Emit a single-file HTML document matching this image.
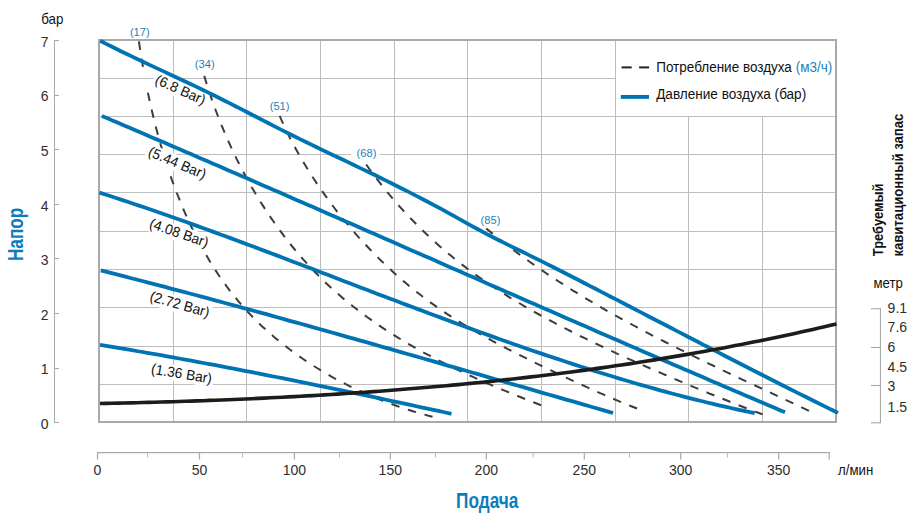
<!DOCTYPE html>
<html><head><meta charset="utf-8"><style>
html,body{margin:0;padding:0;background:#fff;width:921px;height:529px;overflow:hidden}
svg{display:block}
</style></head><body>
<svg width="921" height="529" viewBox="0 0 921 529">
<rect width="921" height="529" fill="#fff"/>
<rect x="173" y="40" width="1" height="382" fill="#bdbdbd"/>
<rect x="246" y="40" width="1" height="382" fill="#bdbdbd"/>
<rect x="320" y="40" width="1" height="382" fill="#bdbdbd"/>
<rect x="394" y="40" width="1" height="382" fill="#bdbdbd"/>
<rect x="467" y="40" width="1" height="382" fill="#bdbdbd"/>
<rect x="541" y="40" width="1" height="382" fill="#bdbdbd"/>
<rect x="615" y="40" width="1" height="382" fill="#bdbdbd"/>
<rect x="688" y="40" width="1" height="382" fill="#bdbdbd"/>
<rect x="762" y="40" width="1" height="382" fill="#bdbdbd"/>
<rect x="99" y="78" width="737" height="1" fill="#bdbdbd"/>
<rect x="99" y="116" width="737" height="1" fill="#bdbdbd"/>
<rect x="99" y="154" width="737" height="1" fill="#bdbdbd"/>
<rect x="99" y="192" width="737" height="1" fill="#bdbdbd"/>
<rect x="99" y="231" width="737" height="1" fill="#bdbdbd"/>
<rect x="99" y="269" width="737" height="1" fill="#bdbdbd"/>
<rect x="99" y="307" width="737" height="1" fill="#bdbdbd"/>
<rect x="99" y="346" width="737" height="1" fill="#bdbdbd"/>
<rect x="99" y="384" width="737" height="1" fill="#bdbdbd"/>
<rect x="616" y="41" width="219" height="75" fill="#fff"/>
<rect x="98" y="39" width="739" height="2" fill="#a9a9a9"/>
<rect x="98" y="39" width="2" height="384" fill="#a9a9a9"/>
<rect x="835" y="39" width="2" height="384" fill="#a9a9a9"/>
<rect x="98" y="421" width="739" height="2" fill="#a9a9a9"/>
<text x="129.9" y="35.6" font-family="Liberation Sans, sans-serif" font-size="11.8" fill="#1f82bd" textLength="19.8" lengthAdjust="spacingAndGlyphs">(17)</text>
<text x="194.8" y="68.0" font-family="Liberation Sans, sans-serif" font-size="11.8" fill="#1f82bd" textLength="19.8" lengthAdjust="spacingAndGlyphs">(34)</text>
<text x="269.7" y="109.8" font-family="Liberation Sans, sans-serif" font-size="11.8" fill="#1f82bd" textLength="19.8" lengthAdjust="spacingAndGlyphs">(51)</text>
<rect x="351" y="146.6" width="28.5" height="13" fill="#fff"/>
<text x="356.6" y="156.6" font-family="Liberation Sans, sans-serif" font-size="11.8" fill="#1f82bd" textLength="19.8" lengthAdjust="spacingAndGlyphs">(68)</text>
<text x="480.6" y="224.0" font-family="Liberation Sans, sans-serif" font-size="11.8" fill="#1f82bd" textLength="19.8" lengthAdjust="spacingAndGlyphs">(85)</text>
<path d="M138.9,41.4 L139.5,45.4 L140.1,49.4 L140.7,53.4 L141.4,57.4 L142.0,61.4 L142.7,65.4 L143.4,69.4 L144.2,73.4 L144.9,77.4 L145.7,81.4 L146.4,85.3 L147.2,89.3 L148.0,93.3 L148.9,97.3 L149.7,101.2 L150.6,105.2 L151.5,109.1 L152.4,113.1 L153.4,117.0 L154.4,121.0 L155.3,124.9 L156.3,128.8 L157.4,132.8 L158.4,136.7 L159.5,140.6 L160.6,144.5 L161.8,148.4 L162.9,152.3 L164.1,156.1 L165.3,160.0 L166.5,163.9 L167.8,167.7 L169.1,171.6 L170.4,175.4 L171.7,179.3 L173.1,183.1 L174.5,186.9 L175.9,190.7 L177.4,194.5 L178.9,198.2 L180.4,202.0 L181.9,205.8 L183.5,209.5 L185.1,213.2 L186.7,216.9 L188.4,220.6 L190.1,224.3 L191.9,228.0 L193.6,231.6 L195.4,235.2 L197.3,238.9 L199.2,242.5 L201.1,246.0 L203.0,249.6 L205.0,253.1 L207.1,256.6 L209.1,260.1 L211.2,263.6 L213.4,267.0 L215.6,270.4 L217.8,273.8 L220.1,277.2 L222.4,280.5 L224.8,283.8 L227.2,287.1 L229.6,290.3 L232.1,293.5 L234.6,296.7 L237.2,299.8 L239.8,302.9 L242.5,306.0 L245.2,309.0 L247.9,312.0 L250.7,314.9 L253.5,317.9 L256.4,320.7 L259.3,323.6 L262.2,326.4 L265.2,329.1 L268.2,331.8 L271.3,334.5 L274.3,337.2 L277.5,339.8 L280.6,342.3 L283.8,344.9 L287.0,347.3 L290.2,349.8 L293.5,352.2 L296.8,354.6 L300.1,356.9 L303.4,359.2 L306.8,361.5 L310.2,363.7 L313.6,365.9 L317.0,368.0 L320.5,370.2 L324.0,372.2 L327.5,374.3 L331.0,376.3 L334.5,378.3 L338.1,380.2 L341.7,382.1 L345.3,383.9 L348.9,385.8 L352.6,387.5 L356.2,389.3 L359.9,391.0 L363.6,392.7 L367.3,394.3 L371.0,395.9 L374.8,397.5 L378.5,399.0 L382.3,400.5 L386.1,402.0 L389.9,403.4 L393.7,404.8 L397.5,406.2 L401.4,407.5 L405.2,408.8 L409.1,410.0 L412.9,411.2 L416.8,412.4 L420.7,413.5 L424.6,414.6 L428.5,415.7 L432.5,416.7" fill="none" stroke="#3d3d3d" stroke-width="2" stroke-dasharray="8.5 8.84"/>
<path d="M204.2,75.9 L205.4,79.8 L206.6,83.6 L207.8,87.5 L209.1,91.4 L210.4,95.2 L211.7,99.1 L213.0,102.9 L214.4,106.7 L215.8,110.5 L217.3,114.3 L218.7,118.1 L220.2,121.9 L221.7,125.7 L223.3,129.4 L224.9,133.2 L226.5,136.9 L228.1,140.6 L229.8,144.4 L231.5,148.1 L233.2,151.7 L235.0,155.4 L236.7,159.1 L238.6,162.7 L240.4,166.3 L242.3,169.9 L244.2,173.5 L246.1,177.1 L248.0,180.7 L250.0,184.2 L252.0,187.8 L254.1,191.3 L256.2,194.8 L258.3,198.2 L260.4,201.7 L262.6,205.1 L264.8,208.6 L267.0,212.0 L269.3,215.3 L271.5,218.7 L273.9,222.0 L276.2,225.4 L278.6,228.7 L281.0,231.9 L283.4,235.2 L285.9,238.4 L288.4,241.6 L290.9,244.8 L293.5,248.0 L296.1,251.1 L298.7,254.2 L301.4,257.3 L304.1,260.3 L306.8,263.3 L309.5,266.3 L312.3,269.3 L315.1,272.2 L318.0,275.1 L320.9,278.0 L323.8,280.9 L326.7,283.7 L329.7,286.5 L332.7,289.2 L335.7,291.9 L338.8,294.6 L341.8,297.2 L345.0,299.9 L348.1,302.4 L351.3,305.0 L354.5,307.5 L357.7,310.0 L360.9,312.5 L364.2,314.9 L367.4,317.3 L370.8,319.6 L374.1,322.0 L377.4,324.3 L380.8,326.6 L384.2,328.8 L387.6,331.1 L391.0,333.2 L394.4,335.4 L397.9,337.6 L401.4,339.7 L404.9,341.8 L408.4,343.8 L411.9,345.9 L415.4,347.9 L419.0,349.9 L422.5,351.9 L426.1,353.8 L429.7,355.7 L433.3,357.6 L436.9,359.5 L440.5,361.4 L444.1,363.2 L447.7,365.0 L451.4,366.8 L455.0,368.6 L458.7,370.3 L462.4,372.1 L466.1,373.8 L469.8,375.5 L473.5,377.2 L477.2,378.9 L480.9,380.5 L484.6,382.2 L488.3,383.8 L492.1,385.4 L495.8,387.0 L499.6,388.6 L503.3,390.1 L507.1,391.7 L510.8,393.2 L514.6,394.8 L518.4,396.3 L522.1,397.8 L525.9,399.3 L529.7,400.8 L533.5,402.2 L537.3,403.7 L541.1,405.2" fill="none" stroke="#3d3d3d" stroke-width="2" stroke-dasharray="8.5 8.77"/>
<path d="M279.7,115.9 L281.3,119.6 L283.0,123.3 L284.7,127.0 L286.4,130.7 L288.2,134.3 L290.0,138.0 L291.9,141.6 L293.8,145.2 L295.7,148.7 L297.7,152.3 L299.7,155.8 L301.7,159.3 L303.8,162.8 L305.9,166.3 L308.0,169.8 L310.2,173.2 L312.3,176.6 L314.6,180.0 L316.8,183.4 L319.1,186.8 L321.4,190.1 L323.7,193.4 L326.1,196.7 L328.5,200.0 L330.9,203.3 L333.3,206.5 L335.8,209.8 L338.3,213.0 L340.8,216.1 L343.4,219.3 L346.0,222.4 L348.6,225.6 L351.2,228.7 L353.8,231.7 L356.5,234.8 L359.2,237.8 L361.9,240.8 L364.7,243.8 L367.5,246.8 L370.3,249.7 L373.1,252.6 L376.0,255.5 L378.8,258.4 L381.7,261.2 L384.7,264.1 L387.6,266.9 L390.6,269.6 L393.6,272.4 L396.6,275.1 L399.6,277.8 L402.7,280.4 L405.8,283.0 L408.9,285.7 L412.1,288.2 L415.2,290.8 L418.4,293.3 L421.6,295.8 L424.9,298.2 L428.1,300.7 L431.4,303.1 L434.7,305.4 L438.0,307.8 L441.4,310.1 L444.7,312.3 L448.1,314.6 L451.5,316.8 L455.0,319.0 L458.4,321.1 L461.8,323.3 L465.3,325.4 L468.8,327.5 L472.3,329.5 L475.8,331.6 L479.3,333.6 L482.9,335.6 L486.4,337.6 L490.0,339.5 L493.5,341.5 L497.1,343.4 L500.7,345.3 L504.3,347.2 L507.9,349.1 L511.5,350.9 L515.1,352.8 L518.8,354.6 L522.4,356.4 L526.0,358.2 L529.7,360.1 L533.3,361.8 L536.9,363.6 L540.6,365.4 L544.2,367.2 L547.9,369.0 L551.6,370.7 L555.2,372.5 L558.9,374.2 L562.6,376.0 L566.2,377.7 L569.9,379.4 L573.6,381.1 L577.3,382.8 L581.0,384.5 L584.7,386.2 L588.4,387.9 L592.1,389.5 L595.8,391.2 L599.5,392.8 L603.2,394.4 L607.0,396.1 L610.7,397.7 L614.4,399.3 L618.2,400.8 L621.9,402.4 L625.7,403.9 L629.4,405.5 L633.2,407.0 L637.0,408.5" fill="none" stroke="#3d3d3d" stroke-width="2" stroke-dasharray="8.5 8.79"/>
<path d="M366.2,164.5 L368.5,167.8 L370.9,171.1 L373.3,174.3 L375.7,177.5 L378.2,180.7 L380.7,183.9 L383.2,187.1 L385.7,190.2 L388.3,193.3 L390.9,196.4 L393.5,199.5 L396.1,202.5 L398.8,205.6 L401.5,208.6 L404.2,211.5 L407.0,214.5 L409.7,217.4 L412.5,220.3 L415.4,223.2 L418.2,226.1 L421.1,228.9 L424.0,231.7 L426.9,234.5 L429.8,237.3 L432.8,240.0 L435.8,242.7 L438.8,245.4 L441.8,248.0 L444.9,250.7 L448.0,253.3 L451.1,255.8 L454.2,258.4 L457.4,260.9 L460.5,263.4 L463.7,265.9 L466.9,268.3 L470.2,270.7 L473.4,273.1 L476.7,275.5 L480.0,277.8 L483.3,280.1 L486.6,282.4 L490.0,284.7 L493.3,286.9 L496.7,289.1 L500.1,291.3 L503.5,293.5 L506.9,295.6 L510.3,297.8 L513.8,299.9 L517.2,301.9 L520.7,304.0 L524.2,306.1 L527.7,308.1 L531.2,310.1 L534.7,312.1 L538.2,314.0 L541.7,316.0 L545.3,317.9 L548.8,319.8 L552.4,321.7 L555.9,323.6 L559.5,325.5 L563.1,327.4 L566.7,329.2 L570.3,331.0 L573.9,332.9 L577.5,334.7 L581.1,336.5 L584.7,338.2 L588.3,340.0 L592.0,341.8 L595.6,343.5 L599.2,345.2 L602.9,347.0 L606.5,348.7 L610.2,350.4 L613.9,352.1 L617.5,353.8 L621.2,355.4 L624.9,357.1 L628.5,358.8 L632.2,360.4 L635.9,362.1 L639.6,363.7 L643.3,365.3 L647.0,367.0 L650.7,368.6 L654.4,370.2 L658.1,371.8 L661.8,373.4 L665.5,375.0 L669.2,376.6 L672.9,378.2 L676.6,379.8 L680.3,381.3 L684.0,382.9 L687.7,384.5 L691.5,386.1 L695.2,387.6 L698.9,389.2 L702.6,390.7 L706.4,392.2 L710.1,393.8 L713.8,395.3 L717.6,396.8 L721.3,398.3 L725.0,399.8 L728.8,401.3 L732.5,402.8 L736.3,404.3 L740.1,405.8 L743.8,407.2 L747.6,408.7 L751.3,410.1 L755.1,411.6 L758.9,413.0 L762.7,414.4" fill="none" stroke="#3d3d3d" stroke-width="2" stroke-dasharray="8.5 8.82"/>
<path d="M486.2,228.5 L489.4,231.1 L492.5,233.6 L495.7,236.2 L498.9,238.8 L502.1,241.3 L505.3,243.8 L508.6,246.3 L511.8,248.8 L515.1,251.2 L518.4,253.6 L521.7,256.1 L525.0,258.5 L528.3,260.8 L531.6,263.2 L535.0,265.5 L538.3,267.9 L541.7,270.2 L545.1,272.5 L548.5,274.8 L551.9,277.0 L555.3,279.3 L558.7,281.5 L562.2,283.7 L565.6,285.9 L569.1,288.1 L572.5,290.3 L576.0,292.4 L579.5,294.5 L583.0,296.7 L586.5,298.8 L590.0,300.9 L593.5,302.9 L597.0,305.0 L600.6,307.1 L604.1,309.1 L607.6,311.1 L611.2,313.2 L614.8,315.2 L618.3,317.1 L621.9,319.1 L625.5,321.1 L629.1,323.0 L632.7,325.0 L636.3,326.9 L639.9,328.8 L643.5,330.8 L647.1,332.7 L650.7,334.6 L654.3,336.4 L658.0,338.3 L661.6,340.2 L665.2,342.0 L668.9,343.9 L672.5,345.7 L676.2,347.6 L679.8,349.4 L683.5,351.2 L687.2,353.0 L690.8,354.8 L694.5,356.6 L698.2,358.4 L701.8,360.2 L705.5,362.0 L709.2,363.8 L712.9,365.5 L716.6,367.3 L720.3,369.1 L723.9,370.8 L727.6,372.6 L731.3,374.3 L735.0,376.1 L738.7,377.8 L742.4,379.6 L746.1,381.3 L749.8,383.0 L753.5,384.8 L757.2,386.5 L760.9,388.2 L764.6,390.0 L768.3,391.7 L772.0,393.4 L775.7,395.2 L779.4,396.9 L783.1,398.6 L786.8,400.4 L790.5,402.1 L794.2,403.8 L797.9,405.6 L801.6,407.3 L805.3,409.1 L809.0,410.8" fill="none" stroke="#3d3d3d" stroke-width="2" stroke-dasharray="8.5 8.80"/>
<rect x="142.5" y="72.5" width="6" height="13" fill="#fff"/>
<rect x="141" y="78" width="9" height="1" fill="#bdbdbd"/>
<g transform="translate(180.0,90.75) rotate(24)"><rect x="-28.9" y="-8.5" width="57.8" height="16" fill="#fff"/><text x="0" y="3.72" text-anchor="middle" font-family="Liberation Sans, sans-serif" font-size="14.3" fill="#111" textLength="53.7" lengthAdjust="spacingAndGlyphs">(6.8 Bar)</text></g>
<g transform="translate(176.85,163.9) rotate(23)"><rect x="-32.8" y="-8.5" width="65.5" height="16" fill="#fff"/><text x="0" y="3.72" text-anchor="middle" font-family="Liberation Sans, sans-serif" font-size="14.3" fill="#111" textLength="61.4" lengthAdjust="spacingAndGlyphs">(5.44 Bar)</text></g>
<g transform="translate(178.75,233.9) rotate(19)"><rect x="-32.8" y="-8.5" width="65.5" height="16" fill="#fff"/><text x="0" y="3.72" text-anchor="middle" font-family="Liberation Sans, sans-serif" font-size="14.3" fill="#111" textLength="61.4" lengthAdjust="spacingAndGlyphs">(4.08 Bar)</text></g>
<g transform="translate(179.45,305.35) rotate(16)"><rect x="-32.8" y="-8.5" width="65.5" height="16" fill="#fff"/><text x="0" y="3.72" text-anchor="middle" font-family="Liberation Sans, sans-serif" font-size="14.3" fill="#111" textLength="61.4" lengthAdjust="spacingAndGlyphs">(2.72 Bar)</text></g>
<g transform="translate(181.45,374.75) rotate(9.5)"><rect x="-32.8" y="-8.5" width="65.5" height="16" fill="#fff"/><text x="0" y="3.72" text-anchor="middle" font-family="Liberation Sans, sans-serif" font-size="14.3" fill="#111" textLength="61.4" lengthAdjust="spacingAndGlyphs">(1.36 Bar)</text></g>
<path d="M100.2,40.8 L105.6,43.6 L111.1,46.3 L116.5,49.0 L121.9,51.7 L127.3,54.3 L132.7,56.9 L138.2,59.5 L143.6,62.0 L149.0,64.6 L154.4,67.1 L159.8,69.6 L165.2,72.1 L170.6,74.7 L176.0,77.2 L181.4,79.7 L186.8,82.3 L192.2,84.8 L197.6,87.4 L203.0,90.0 L208.4,92.6 L213.8,95.3 L219.2,98.0 L224.6,100.7 L230.0,103.4 L235.4,106.2 L240.8,108.9 L246.2,111.7 L251.6,114.5 L257.0,117.3 L262.4,120.1 L267.7,122.8 L273.1,125.6 L278.5,128.4 L283.9,131.1 L289.3,133.8 L294.7,136.5 L300.0,139.1 L305.4,141.8 L310.8,144.4 L316.2,147.0 L321.6,149.6 L326.9,152.2 L332.3,154.7 L337.7,157.3 L343.1,159.8 L348.5,162.4 L353.8,165.0 L359.2,167.6 L364.6,170.1 L370.0,172.7 L375.3,175.3 L380.7,178.0 L386.1,180.6 L391.4,183.3 L396.8,186.0 L402.2,188.7 L407.6,191.4 L412.9,194.1 L418.3,196.9 L423.7,199.7 L429.0,202.5 L434.4,205.4 L439.8,208.2 L445.1,211.1 L450.5,214.1 L455.9,217.1 L461.3,220.1 L466.6,223.1 L472.0,226.1 L477.4,229.0 L482.7,231.9 L488.1,234.8 L493.5,237.5 L498.8,240.2 L504.2,242.9 L509.6,245.6 L514.9,248.2 L520.3,250.8 L525.7,253.4 L531.0,256.1 L536.4,258.7 L541.8,261.4 L547.1,264.1 L552.5,266.8 L557.9,269.5 L563.3,272.3 L568.6,275.0 L574.0,277.8 L579.4,280.5 L584.7,283.3 L590.1,286.1 L595.5,288.8 L600.9,291.6 L606.2,294.4 L611.6,297.2 L617.0,299.9 L622.4,302.7 L627.7,305.5 L633.1,308.3 L638.5,311.1 L643.9,313.9 L649.2,316.7 L654.6,319.5 L660.0,322.2 L665.4,325.0 L670.7,327.8 L676.1,330.6 L681.5,333.4 L686.9,336.2 L692.3,339.0 L697.7,341.8 L703.0,344.6 L708.4,347.3 L713.8,350.1 L719.2,352.9 L724.6,355.7 L730.0,358.5 L735.4,361.2 L740.8,364.0 L746.2,366.8 L751.5,369.5 L756.9,372.3 L762.3,375.0 L767.7,377.8 L773.1,380.5 L778.5,383.2 L783.9,386.0 L789.3,388.7 L794.7,391.4 L800.1,394.1 L805.5,396.8 L810.9,399.5 L816.4,402.2 L821.8,404.9 L827.2,407.6 L832.6,410.3 L838.0,412.9" fill="none" stroke="#0073b2" stroke-width="3.8"/>
<path d="M101.8,116.0 L107.4,118.3 L113.0,120.7 L118.6,123.1 L124.1,125.5 L129.7,127.8 L135.3,130.2 L140.8,132.6 L146.4,135.0 L152.0,137.4 L157.5,139.7 L163.1,142.1 L168.6,144.5 L174.2,146.9 L179.8,149.3 L185.3,151.7 L190.9,154.1 L196.4,156.5 L202.0,158.9 L207.6,161.3 L213.1,163.7 L218.7,166.1 L224.2,168.5 L229.8,170.9 L235.3,173.3 L240.9,175.7 L246.5,178.1 L252.0,180.5 L257.6,183.0 L263.1,185.4 L268.7,187.8 L274.2,190.2 L279.8,192.6 L285.3,195.0 L290.9,197.5 L296.4,199.9 L302.0,202.3 L307.5,204.7 L313.1,207.1 L318.6,209.6 L324.2,212.0 L329.7,214.4 L335.2,216.8 L340.8,219.3 L346.3,221.7 L351.9,224.1 L357.4,226.5 L363.0,229.0 L368.5,231.4 L374.1,233.8 L379.6,236.3 L385.2,238.7 L390.7,241.1 L396.2,243.6 L401.8,246.0 L407.3,248.4 L412.9,250.9 L418.4,253.3 L424.0,255.7 L429.5,258.1 L435.1,260.6 L440.6,263.0 L446.1,265.4 L451.7,267.9 L457.2,270.3 L462.8,272.7 L468.3,275.2 L473.9,277.6 L479.4,280.0 L485.0,282.5 L490.5,284.9 L496.0,287.3 L501.6,289.8 L507.1,292.2 L512.7,294.6 L518.2,297.0 L523.8,299.5 L529.3,301.9 L534.9,304.3 L540.4,306.7 L546.0,309.2 L551.5,311.6 L557.1,314.0 L562.6,316.4 L568.2,318.9 L573.7,321.3 L579.3,323.7 L584.8,326.1 L590.4,328.5 L595.9,331.0 L601.5,333.4 L607.0,335.8 L612.6,338.2 L618.1,340.6 L623.7,343.0 L629.2,345.4 L634.8,347.8 L640.3,350.2 L645.9,352.7 L651.4,355.1 L657.0,357.5 L662.6,359.9 L668.1,362.3 L673.7,364.7 L679.2,367.1 L684.8,369.5 L690.4,371.8 L695.9,374.2 L701.5,376.6 L707.0,379.0 L712.6,381.4 L718.2,383.8 L723.7,386.2 L729.3,388.6 L734.9,390.9 L740.4,393.3 L746.0,395.7 L751.6,398.1 L757.2,400.4 L762.7,402.8 L768.3,405.2 L773.9,407.5 L779.4,409.9 L785.0,412.2" fill="none" stroke="#0073b2" stroke-width="3.8"/>
<path d="M99.5,192.6 L105.3,194.5 L111.0,196.3 L116.8,198.2 L122.5,200.1 L128.3,202.0 L134.0,204.0 L139.8,205.9 L145.5,207.8 L151.2,209.8 L157.0,211.8 L162.7,213.8 L168.4,215.8 L174.1,217.8 L179.9,219.8 L185.6,221.8 L191.3,223.9 L197.0,225.9 L202.7,228.0 L208.4,230.0 L214.1,232.1 L219.8,234.2 L225.5,236.3 L231.2,238.4 L236.9,240.5 L242.6,242.6 L248.2,244.7 L253.9,246.8 L259.6,249.0 L265.3,251.1 L271.0,253.3 L276.7,255.4 L282.3,257.5 L288.0,259.7 L293.7,261.9 L299.4,264.0 L305.0,266.2 L310.7,268.3 L316.4,270.5 L322.1,272.7 L327.7,274.8 L333.4,277.0 L339.1,279.2 L344.8,281.4 L350.4,283.5 L356.1,285.7 L361.8,287.9 L367.5,290.0 L373.1,292.2 L378.8,294.4 L384.5,296.5 L390.2,298.7 L395.9,300.8 L401.5,303.0 L407.2,305.1 L412.9,307.3 L418.6,309.4 L424.3,311.5 L430.0,313.7 L435.7,315.8 L441.4,317.9 L447.0,320.0 L452.7,322.1 L458.4,324.2 L464.1,326.3 L469.8,328.4 L475.6,330.5 L481.3,332.5 L487.0,334.6 L492.7,336.6 L498.4,338.7 L504.1,340.7 L509.9,342.7 L515.6,344.7 L521.3,346.7 L527.0,348.7 L532.8,350.7 L538.5,352.6 L544.3,354.6 L550.0,356.5 L555.8,358.4 L561.5,360.3 L567.3,362.2 L573.1,364.1 L578.8,366.0 L584.6,367.8 L590.4,369.6 L596.2,371.5 L602.0,373.3 L607.8,375.0 L613.6,376.8 L619.4,378.6 L625.2,380.3 L631.0,382.0 L636.8,383.7 L642.7,385.4 L648.5,387.0 L654.4,388.7 L660.2,390.3 L666.1,391.9 L671.9,393.5 L677.8,395.0 L683.7,396.6 L689.5,398.1 L695.4,399.6 L701.3,401.0 L707.2,402.5 L713.1,403.9 L719.0,405.3 L725.0,406.7 L730.9,408.0 L736.8,409.4 L742.8,410.7 L748.7,411.9 L754.7,413.2" fill="none" stroke="#0073b2" stroke-width="3.8"/>
<path d="M100.8,270.4 L106.7,271.9 L112.7,273.4 L118.6,274.9 L124.5,276.4 L130.4,278.0 L136.3,279.5 L142.3,281.0 L148.2,282.6 L154.1,284.1 L160.0,285.6 L165.9,287.2 L171.8,288.8 L177.8,290.3 L183.7,291.9 L189.6,293.5 L195.5,295.0 L201.4,296.6 L207.3,298.2 L213.2,299.8 L219.1,301.4 L225.0,303.0 L230.9,304.6 L236.8,306.2 L242.7,307.8 L248.6,309.4 L254.5,311.0 L260.4,312.6 L266.3,314.2 L272.2,315.9 L278.0,317.5 L283.9,319.1 L289.8,320.8 L295.7,322.4 L301.6,324.0 L307.5,325.7 L313.4,327.3 L319.3,329.0 L325.2,330.6 L331.0,332.3 L336.9,333.9 L342.8,335.6 L348.7,337.3 L354.6,338.9 L360.5,340.6 L366.3,342.2 L372.2,343.9 L378.1,345.6 L384.0,347.3 L389.9,348.9 L395.7,350.6 L401.6,352.3 L407.5,354.0 L413.4,355.6 L419.2,357.3 L425.1,359.0 L431.0,360.7 L436.9,362.4 L442.7,364.1 L448.6,365.8 L454.5,367.4 L460.4,369.1 L466.2,370.8 L472.1,372.5 L478.0,374.2 L483.9,375.9 L489.7,377.6 L495.6,379.3 L501.5,381.0 L507.4,382.7 L513.2,384.3 L519.1,386.0 L525.0,387.7 L530.9,389.4 L536.7,391.1 L542.6,392.8 L548.5,394.5 L554.4,396.2 L560.2,397.9 L566.1,399.6 L572.0,401.2 L577.9,402.9 L583.8,404.6 L589.6,406.3 L595.5,408.0 L601.4,409.7 L607.3,411.4 L613.1,413.0" fill="none" stroke="#0073b2" stroke-width="3.8"/>
<path d="M100.0,344.8 L106.1,345.8 L112.2,346.8 L118.3,347.8 L124.4,348.9 L130.5,349.9 L136.5,351.0 L142.6,352.0 L148.7,353.1 L154.8,354.1 L160.9,355.2 L167.0,356.3 L173.0,357.4 L179.1,358.5 L185.2,359.6 L191.3,360.7 L197.3,361.8 L203.4,363.0 L209.5,364.1 L215.6,365.2 L221.6,366.4 L227.7,367.6 L233.8,368.7 L239.8,369.9 L245.9,371.1 L252.0,372.2 L258.0,373.4 L264.1,374.6 L270.1,375.8 L276.2,377.0 L282.3,378.2 L288.3,379.4 L294.4,380.7 L300.4,381.9 L306.5,383.1 L312.5,384.3 L318.6,385.6 L324.6,386.8 L330.7,388.1 L336.7,389.3 L342.8,390.6 L348.8,391.8 L354.9,393.1 L360.9,394.4 L367.0,395.7 L373.0,396.9 L379.0,398.2 L385.1,399.5 L391.1,400.8 L397.2,402.1 L403.2,403.4 L409.2,404.7 L415.3,406.0 L421.3,407.3 L427.4,408.6 L433.4,409.9 L439.4,411.2 L445.5,412.5 L451.5,413.8" fill="none" stroke="#0073b2" stroke-width="3.8"/>
<path d="M100.0,403.5 L106.1,403.4 L112.2,403.3 L118.2,403.1 L124.3,403.0 L130.4,402.9 L136.5,402.7 L142.6,402.5 L148.6,402.4 L154.7,402.2 L160.8,402.0 L166.9,401.9 L172.9,401.7 L179.0,401.5 L185.1,401.3 L191.2,401.1 L197.3,400.9 L203.3,400.7 L209.4,400.4 L215.5,400.2 L221.6,400.0 L227.7,399.7 L233.7,399.5 L239.8,399.2 L245.9,399.0 L252.0,398.7 L258.1,398.4 L264.1,398.1 L270.2,397.8 L276.3,397.5 L282.4,397.2 L288.4,396.9 L294.5,396.6 L300.6,396.3 L306.7,395.9 L312.8,395.6 L318.8,395.2 L324.9,394.9 L331.0,394.5 L337.1,394.1 L343.1,393.7 L349.2,393.3 L355.3,392.9 L361.3,392.5 L367.4,392.1 L373.5,391.6 L379.6,391.2 L385.6,390.7 L391.7,390.3 L397.8,389.8 L403.8,389.3 L409.9,388.8 L416.0,388.3 L422.0,387.8 L428.1,387.3 L434.1,386.8 L440.2,386.2 L446.3,385.7 L452.3,385.1 L458.4,384.6 L464.4,384.0 L470.5,383.4 L476.5,382.8 L482.6,382.2 L488.7,381.6 L494.7,380.9 L500.8,380.3 L506.8,379.6 L512.8,379.0 L518.9,378.3 L524.9,377.6 L531.0,376.9 L537.0,376.2 L543.1,375.5 L549.1,374.7 L555.1,374.0 L561.2,373.2 L567.2,372.5 L573.2,371.7 L579.3,370.9 L585.3,370.1 L591.3,369.2 L597.3,368.4 L603.4,367.6 L609.4,366.7 L615.4,365.8 L621.4,365.0 L627.4,364.1 L633.4,363.2 L639.4,362.2 L645.5,361.3 L651.5,360.4 L657.5,359.4 L663.5,358.4 L669.5,357.4 L675.5,356.4 L681.5,355.4 L687.5,354.4 L693.4,353.3 L699.4,352.3 L705.4,351.2 L711.4,350.1 L717.4,349.0 L723.4,347.9 L729.4,346.8 L735.3,345.6 L741.3,344.5 L747.3,343.3 L753.2,342.1 L759.2,340.9 L765.2,339.7 L771.1,338.5 L777.1,337.2 L783.0,335.9 L789.0,334.7 L794.9,333.4 L800.9,332.1 L806.8,330.7 L812.8,329.4 L818.7,328.0 L824.6,326.7 L830.6,325.3 L836.5,323.9" fill="none" stroke="#1c1c1c" stroke-width="3.6"/>
<rect x="621.5" y="66.4" width="10.2" height="2" fill="#222"/>
<rect x="639.1" y="66.4" width="10" height="2" fill="#222"/>
<rect x="620.8" y="94.95" width="28.2" height="3.9" fill="#0073b2"/>
<text x="656.2" y="71.9" font-family="Liberation Sans, sans-serif" font-size="15.2" fill="#111" textLength="176" lengthAdjust="spacingAndGlyphs">Потребление воздуха <tspan fill="#1f82bd">(м3/ч)</tspan></text>
<text x="656.2" y="99.4" font-family="Liberation Sans, sans-serif" font-size="15.2" fill="#111" textLength="150" lengthAdjust="spacingAndGlyphs">Давление воздуха (бар)</text>
<rect x="54" y="40" width="1" height="383" fill="#a8a8a8"/>
<rect x="54" y="422" width="5" height="1" fill="#a8a8a8"/>
<text x="48.6" y="428.9" font-family="Liberation Sans, sans-serif" font-size="14" fill="#2e2e2e" text-anchor="end">0</text>
<rect x="54" y="368" width="5" height="1" fill="#a8a8a8"/>
<text x="48.6" y="374.3" font-family="Liberation Sans, sans-serif" font-size="14" fill="#2e2e2e" text-anchor="end">1</text>
<rect x="54" y="313" width="5" height="1" fill="#a8a8a8"/>
<text x="48.6" y="319.7" font-family="Liberation Sans, sans-serif" font-size="14" fill="#2e2e2e" text-anchor="end">2</text>
<rect x="54" y="258" width="5" height="1" fill="#a8a8a8"/>
<text x="48.6" y="265.1" font-family="Liberation Sans, sans-serif" font-size="14" fill="#2e2e2e" text-anchor="end">3</text>
<rect x="54" y="204" width="5" height="1" fill="#a8a8a8"/>
<text x="48.6" y="210.5" font-family="Liberation Sans, sans-serif" font-size="14" fill="#2e2e2e" text-anchor="end">4</text>
<rect x="54" y="149" width="5" height="1" fill="#a8a8a8"/>
<text x="48.6" y="155.9" font-family="Liberation Sans, sans-serif" font-size="14" fill="#2e2e2e" text-anchor="end">5</text>
<rect x="54" y="95" width="5" height="1" fill="#a8a8a8"/>
<text x="48.6" y="101.3" font-family="Liberation Sans, sans-serif" font-size="14" fill="#2e2e2e" text-anchor="end">6</text>
<rect x="54" y="40" width="5" height="1" fill="#a8a8a8"/>
<text x="48.6" y="46.7" font-family="Liberation Sans, sans-serif" font-size="14" fill="#2e2e2e" text-anchor="end">7</text>
<text x="41.2" y="23.8" font-family="Liberation Sans, sans-serif" font-size="14.6" fill="#111" textLength="22.2" lengthAdjust="spacingAndGlyphs">бар</text>
<rect x="97" y="452" width="732.7" height="1.2" fill="#a8a8a8"/>
<rect x="96.9" y="452" width="1.2" height="7.5" fill="#a8a8a8"/>
<text x="97.5" y="474.9" font-family="Liberation Sans, sans-serif" font-size="14" fill="#2e2e2e" text-anchor="middle">0</text>
<rect x="198.9" y="452" width="1.2" height="7.5" fill="#a8a8a8"/>
<text x="199.5" y="474.9" font-family="Liberation Sans, sans-serif" font-size="14" fill="#2e2e2e" text-anchor="middle">50</text>
<rect x="293.8" y="452" width="1.2" height="7.5" fill="#a8a8a8"/>
<text x="294.4" y="474.9" font-family="Liberation Sans, sans-serif" font-size="14" fill="#2e2e2e" text-anchor="middle">100</text>
<rect x="389.7" y="452" width="1.2" height="7.5" fill="#a8a8a8"/>
<text x="390.3" y="474.9" font-family="Liberation Sans, sans-serif" font-size="14" fill="#2e2e2e" text-anchor="middle">150</text>
<rect x="485.7" y="452" width="1.2" height="7.5" fill="#a8a8a8"/>
<text x="486.3" y="474.9" font-family="Liberation Sans, sans-serif" font-size="14" fill="#2e2e2e" text-anchor="middle">200</text>
<rect x="583.7" y="452" width="1.2" height="7.5" fill="#a8a8a8"/>
<text x="584.3" y="474.9" font-family="Liberation Sans, sans-serif" font-size="14" fill="#2e2e2e" text-anchor="middle">250</text>
<rect x="680.1" y="452" width="1.2" height="7.5" fill="#a8a8a8"/>
<text x="680.7" y="474.9" font-family="Liberation Sans, sans-serif" font-size="14" fill="#2e2e2e" text-anchor="middle">300</text>
<rect x="778.1" y="452" width="1.2" height="7.5" fill="#a8a8a8"/>
<text x="778.7" y="474.9" font-family="Liberation Sans, sans-serif" font-size="14" fill="#2e2e2e" text-anchor="middle">350</text>
<rect x="147.1" y="452" width="1" height="5.6" fill="#b5b5b5"/>
<rect x="242.1" y="452" width="1" height="5.6" fill="#b5b5b5"/>
<rect x="339.0" y="452" width="1" height="5.6" fill="#b5b5b5"/>
<rect x="434.9" y="452" width="1" height="5.6" fill="#b5b5b5"/>
<rect x="532.6" y="452" width="1" height="5.6" fill="#b5b5b5"/>
<rect x="629.0" y="452" width="1" height="5.6" fill="#b5b5b5"/>
<rect x="727.1" y="452" width="1" height="5.6" fill="#b5b5b5"/>
<rect x="828.6" y="452" width="1.2" height="7.5" fill="#a8a8a8"/>
<text x="838.1" y="474.9" font-family="Liberation Sans, sans-serif" font-size="14.5" fill="#111" textLength="35.2" lengthAdjust="spacingAndGlyphs">л/мин</text>
<text x="456.1" y="507.7" font-family="Liberation Sans, sans-serif" font-size="21.5" font-weight="bold" fill="#0c7dbd" textLength="62.3" lengthAdjust="spacingAndGlyphs">Подача</text>
<text transform="translate(23.1,261) rotate(-90)" font-family="Liberation Sans, sans-serif" font-size="21.8" font-weight="bold" fill="#0c7dbd" textLength="53.2" lengthAdjust="spacingAndGlyphs">Напор</text>
<text transform="translate(883,256.2) rotate(-90)" font-family="Liberation Sans, sans-serif" font-size="15.5" font-weight="bold" fill="#111" textLength="72.6" lengthAdjust="spacingAndGlyphs">Требуемый</text>
<text transform="translate(903,256.6) rotate(-90)" font-family="Liberation Sans, sans-serif" font-size="15.5" font-weight="bold" fill="#111" textLength="143" lengthAdjust="spacingAndGlyphs">кавитационный запас</text>
<rect x="879.9" y="308.2" width="1.1" height="115" fill="#a8a8a8"/>
<rect x="871" y="308.15" width="9.5" height="1.1" fill="#a8a8a8"/>
<rect x="871" y="346.95" width="9.5" height="1.1" fill="#a8a8a8"/>
<rect x="871" y="384.95" width="9.5" height="1.1" fill="#a8a8a8"/>
<rect x="871" y="422.25" width="9.5" height="1.1" fill="#a8a8a8"/>
<text x="887.6" y="312.6" font-family="Liberation Sans, sans-serif" font-size="14" fill="#2e2e2e">9.1</text>
<text x="887.6" y="331.8" font-family="Liberation Sans, sans-serif" font-size="14" fill="#2e2e2e">7.6</text>
<text x="887.6" y="351.9" font-family="Liberation Sans, sans-serif" font-size="14" fill="#2e2e2e">6</text>
<text x="887.6" y="372.3" font-family="Liberation Sans, sans-serif" font-size="14" fill="#2e2e2e">4.5</text>
<text x="887.6" y="391" font-family="Liberation Sans, sans-serif" font-size="14" fill="#2e2e2e">3</text>
<text x="887.6" y="412.3" font-family="Liberation Sans, sans-serif" font-size="14" fill="#2e2e2e">1.5</text>
<text x="873.4" y="287.9" font-family="Liberation Sans, sans-serif" font-size="15" fill="#111" textLength="29.4" lengthAdjust="spacingAndGlyphs">метр</text>
</svg>
</body></html>
